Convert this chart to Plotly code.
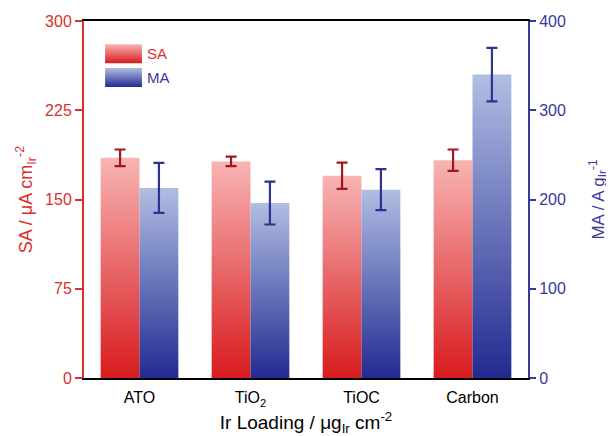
import plotly.graph_objects as go

categories = ["ATO", "TiO<sub>2</sub>", "TiOC", "Carbon"]
sa_values = [185, 182, 170, 183]
sa_errors = [7, 4, 11, 9]
ma_values = [213, 196, 211, 340]
ma_errors = [28, 24, 23, 30]
sa_ticks = [0, 75, 150, 225, 300]
ma_ticks = [0, 100, 200, 300, 400]

RED = "#d9302c"
BLUE = "#37399a"
SA_SCALE = [[0, "#d81b1e"], [1, "#f8b4b4"]]
MA_SCALE = [[0, "#232a90"], [1, "#b0bee3"]]
half = 0.35
font = "Liberation Sans, Arial, sans-serif"

fig = go.Figure()

for i, v in enumerate(sa_values):
    x0, x1 = i - half, i
    fig.add_trace(go.Scatter(
        x=[x0, x1, x1, x0, x0], y=[0, 0, v, v, 0], mode="lines",
        line=dict(width=0), fill="toself",
        fillgradient=dict(type="vertical", start=0, stop=v, colorscale=SA_SCALE),
        showlegend=False, hoverinfo="skip", yaxis="y"))

for i, v in enumerate(ma_values):
    x0, x1 = i, i + half
    fig.add_trace(go.Scatter(
        x=[x0, x1, x1, x0, x0], y=[0, 0, v, v, 0], mode="lines",
        line=dict(width=0), fill="toself",
        fillgradient=dict(type="vertical", start=0, stop=v, colorscale=MA_SCALE),
        showlegend=False, hoverinfo="skip", yaxis="y2"))

fig.add_trace(go.Scatter(
    x=[i - half / 2 for i in range(len(categories))], y=sa_values, mode="markers",
    marker=dict(size=1, opacity=0), showlegend=False, yaxis="y", hoverinfo="skip",
    error_y=dict(type="data", array=sa_errors, color="#a0191d", thickness=2.2, width=5.5)))
fig.add_trace(go.Scatter(
    x=[i + half / 2 for i in range(len(categories))], y=ma_values, mode="markers",
    marker=dict(size=1, opacity=0), showlegend=False, yaxis="y2", hoverinfo="skip",
    error_y=dict(type="data", array=ma_errors, color="#2e3190", thickness=2.2, width=5.5)))

# legend (drawn inside the plot, gradient swatches)
legend_items = [("SA", SA_SCALE, RED, 280.5, 264.5), ("MA", MA_SCALE, BLUE, 260.5, 244.5)]
lx0, lx1 = -0.31, 0.022
for name, scale, col, ytop, ybot in legend_items:
    fig.add_trace(go.Scatter(
        x=[lx0, lx1, lx1, lx0, lx0], y=[ybot, ybot, ytop, ytop, ybot], mode="lines",
        line=dict(width=0), fill="toself",
        fillgradient=dict(type="vertical", start=ybot, stop=ytop, colorscale=scale),
        showlegend=False, hoverinfo="skip", yaxis="y"))
    fig.add_annotation(x=lx1 + 0.03, y=(ytop + ybot) / 2, xref="x", yref="y",
                       text=name, showarrow=False, xanchor="left", yanchor="middle",
                       font=dict(family=font, size=15, color=col))

fig.update_layout(
    width=606, height=428,
    margin=dict(l=76, r=86, t=13, b=58),
    paper_bgcolor="white", plot_bgcolor="white",
    font=dict(family=font, size=15, color="black"),
    showlegend=False,
    xaxis=dict(range=[-0.5, 3.5], tickvals=list(range(len(categories))), ticktext=categories,
               showline=True, linecolor="black", linewidth=2, mirror=True,
               showgrid=False, zeroline=False, ticks="", automargin=False,
               tickfont=dict(size=16), ticklabelstandoff=4,
               title=dict(text="Ir Loading / μg<sub>Ir</sub> cm<sup>-2</sup>", font=dict(size=19), standoff=19)),
    yaxis=dict(range=[0, 300], tickvals=sa_ticks, showline=True, linecolor=RED, linewidth=2,
               ticks="outside", tickcolor=RED, ticklen=7, tickwidth=2, automargin=False,
               tickfont=dict(color=RED, size=16), showgrid=False, zeroline=False,
               title=dict(text="SA / μA cm<sub>Ir</sub><sup>-2</sup>", font=dict(color=RED, size=18), standoff=8)),
    yaxis2=dict(range=[0, 400], tickvals=ma_ticks, overlaying="y", side="right",
                showline=True, linecolor=BLUE, linewidth=2, automargin=False,
                ticks="outside", tickcolor=BLUE, ticklen=6, tickwidth=2,
                tickfont=dict(color=BLUE, size=16), showgrid=False, zeroline=False,
                title=dict(text="MA / A g<sub>Ir</sub><sup>-1</sup>", font=dict(color=BLUE, size=17), standoff=27)),
)

fig.write_html("out.html")
